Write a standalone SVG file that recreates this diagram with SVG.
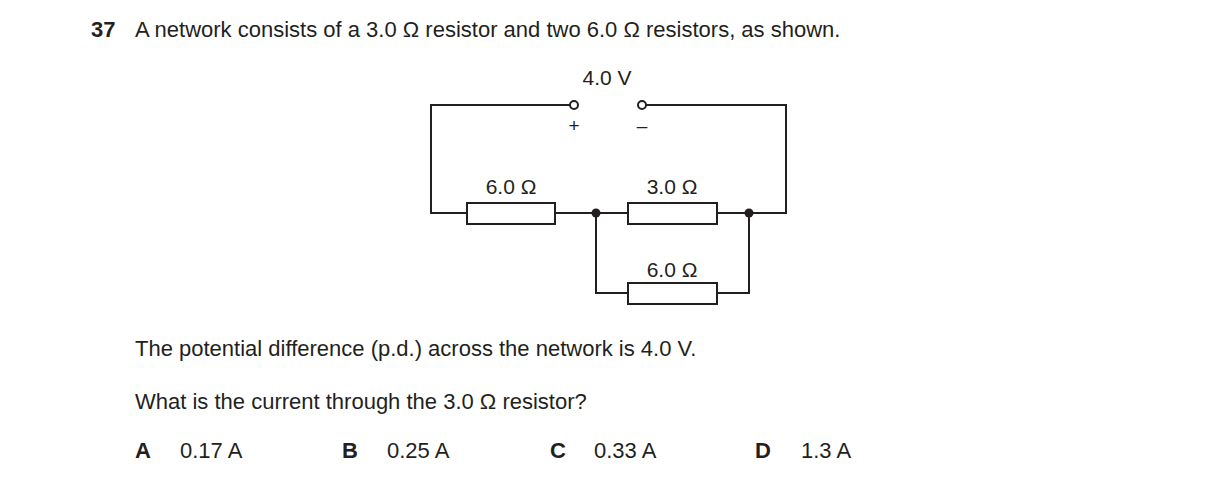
<svg xmlns="http://www.w3.org/2000/svg" width="1216" height="483" viewBox="0 0 1216 483">
<style>
text{font-family:"Liberation Sans",Arial,sans-serif;font-size:22px;fill:#231f20}
.c{text-anchor:middle;font-size:21px}
.w{fill:none;stroke:#231f20;stroke-width:2}
.r{fill:#fff;stroke:#231f20;stroke-width:2}
.b{font-weight:bold}
</style>
<rect width="1216" height="483" fill="#fff"/>
<text x="91" y="37" class="b">37</text>
<text x="135" y="37">A network consists of a 3.0 Ω resistor and two 6.0 Ω resistors, as shown.</text>
<g id="connectors">
<path class="w" d="M570,105 H431 V213 H467 M555,213 H628 M717,213 H786 V105 H646 M596,213 V293 H628 M717,293 H749 V213"/>
</g>
<g id="battery">
<circle class="r" cx="574" cy="105" r="4"/>
<circle class="r" cx="642" cy="105" r="4"/>
<text class="c" x="607" y="85">4.0 V</text>
<text class="c" x="574" y="132" style="font-size:19px">+</text>
<text class="c" x="642" y="132" style="font-size:19px">–</text>
</g>
<g id="R1"><rect class="r" x="467" y="203" width="88" height="21"/><text class="c" x="511" y="194">6.0 Ω</text></g>
<g id="R2"><rect class="r" x="628" y="203" width="89" height="21"/><text class="c" x="672" y="194">3.0 Ω</text></g>
<g id="R3"><rect class="r" x="628" y="283" width="89" height="21"/><text class="c" x="672" y="277">6.0 Ω</text></g>
<g id="junctions"><circle cx="596" cy="213" r="4.5" fill="#231f20"/><circle cx="749" cy="213" r="4.5" fill="#231f20"/></g>
<text x="135" y="356">The potential difference (p.d.) across the network is 4.0 V.</text>
<text x="135" y="409">What is the current through the 3.0 Ω resistor?</text>
<text x="135" y="458" class="b">A</text><text x="180" y="458">0.17 A</text>
<text x="342" y="458" class="b">B</text><text x="387" y="458">0.25 A</text>
<text x="550" y="458" class="b">C</text><text x="594" y="458">0.33 A</text>
<text x="755" y="458" class="b">D</text><text x="801" y="458">1.3 A</text>
</svg>
